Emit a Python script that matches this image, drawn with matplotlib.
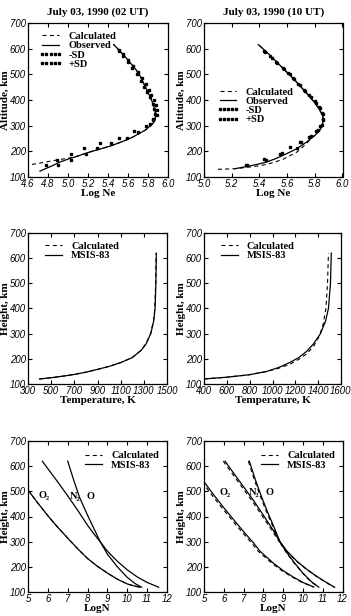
import numpy as np
import matplotlib.pyplot as plt

# ---- datos: densidad electronica (02 UT)
alt_obs1 = [123, 135, 145, 155, 167, 178, 190, 200, 210, 219, 230, 243, 256, 269, 282, 295, 305,
            314, 327, 340, 356, 373, 400, 438, 470, 503, 535, 567, 590, 616]
ne_obs1 = [4.72, 4.79, 4.85, 4.90, 4.98, 5.07, 5.16, 5.24, 5.33, 5.41, 5.49, 5.575, 5.65, 5.71, 5.77,
           5.81, 5.84, 5.86, 5.872, 5.876, 5.872, 5.86, 5.835, 5.79, 5.75, 5.71, 5.645, 5.575, 5.52, 5.457]
alt_cal1 = [149, 153, 158, 162, 167, 172, 178] + alt_obs1[6:]
ne_cal1 = [4.64, 4.70, 4.77, 4.83, 4.90, 4.98, 5.07] + ne_obs1[6:]
alt_msd1 = [145, 145, 167, 188, 213, 233, 253, 275, 305, 325, 345, 365, 385, 410, 430, 450, 475, 500, 525, 550, 570, 590]
ne_msd1 = [4.78, 4.90, 5.03, 5.03, 5.29, 5.43, 5.59, 5.70, 5.82, 5.85, 5.87, 5.86, 5.85, 5.82, 5.79, 5.76, 5.73, 5.69, 5.64, 5.60, 5.55, 5.51]
alt_psd1 = [167, 191, 213, 233, 253, 278, 300, 322, 342, 362, 382, 400, 420, 440, 462, 485, 508, 532, 555, 578, 595]
ne_psd1 = [4.89, 5.18, 5.16, 5.32, 5.51, 5.66, 5.78, 5.85, 5.89, 5.89, 5.88, 5.86, 5.83, 5.81, 5.78, 5.74, 5.70, 5.65, 5.60, 5.55, 5.51]

# ---- datos: densidad electronica (10 UT)
alt_obs2 = [132, 137, 143, 150, 158, 170, 184, 197, 210, 223, 236, 249, 262, 278, 295, 311, 327,
            343, 360, 382, 405, 430, 457, 486, 516, 548, 581, 616]
ne_obs2 = [5.22, 5.27, 5.33, 5.39, 5.45, 5.51, 5.57, 5.62, 5.67, 5.705, 5.74, 5.77, 5.80, 5.83, 5.85,
           5.858, 5.86, 5.855, 5.836, 5.81, 5.776, 5.735, 5.69, 5.64, 5.584, 5.525, 5.464, 5.392]
alt_cal2 = [130, 131, 132, 135, 139, 143, 149, 158, 169, 183, 197, 213, 230, 249] + alt_obs2[12:]
ne_cal2 = [5.10, 5.16, 5.21, 5.27, 5.33, 5.39, 5.45, 5.51, 5.57, 5.62, 5.67, 5.705, 5.74, 5.77] + ne_obs2[12:]
alt_msd2 = [145, 168, 190, 212, 235, 255, 280, 300, 322, 345, 368, 390, 412, 435, 458, 480, 500, 520, 545, 565, 588]
ne_msd2 = [5.30, 5.45, 5.55, 5.67, 5.70, 5.76, 5.81, 5.84, 5.86, 5.86, 5.84, 5.81, 5.77, 5.73, 5.69, 5.65, 5.62, 5.58, 5.53, 5.49, 5.44]
alt_psd2 = [148, 170, 192, 218, 238, 258, 282, 302, 325, 348, 372, 395, 418, 440, 462, 485, 505, 525, 550, 570, 592]
ne_psd2 = [5.31, 5.43, 5.56, 5.62, 5.69, 5.77, 5.82, 5.85, 5.86, 5.85, 5.83, 5.80, 5.76, 5.72, 5.68, 5.64, 5.61, 5.57, 5.52, 5.48, 5.43]

# ---- datos: temperatura
alt_t1 = [120, 125, 131, 138, 147, 158, 170, 185, 205, 235, 260, 300, 350, 400, 500, 620]
t_msis1 = [400, 500, 600, 700, 800, 900, 1000, 1100, 1200, 1280, 1320, 1360, 1385, 1397, 1404, 1408]
t_cal1 = [400, 500, 600, 700, 800, 900, 1000, 1100, 1200, 1278, 1318, 1358, 1383, 1395, 1402, 1406]
alt_t2 = [120, 127, 137, 150, 165, 185, 205, 230, 260, 300, 350, 400, 500, 620]
t_msis2 = [400, 600, 800, 950, 1050, 1150, 1230, 1300, 1360, 1420, 1465, 1490, 1508, 1515]
alt_t2c = [120, 127, 137, 150, 162, 178, 198, 220, 250, 290, 340, 400, 500, 620]
t_cal2 = [400, 600, 800, 950, 1050, 1150, 1230, 1300, 1360, 1410, 1445, 1468, 1482, 1490]

# ---- datos: composicion neutra (02 UT)
n_o2_1 = [5.0, 5.5, 6.0, 6.5, 7.0, 7.5, 8.0, 8.5, 9.0, 9.5, 10.0, 10.3, 10.64]
alt_o2_1 = [505, 453, 403, 357, 314, 272, 233, 202, 175, 151, 132, 125, 119]
n_n2_1 = [5.72, 6.0, 6.5, 7.0, 7.5, 8.0, 8.3, 8.65, 9.0, 9.5, 10.0, 10.5, 11.0, 11.58]
alt_n2_1 = [620, 590, 537, 482, 425, 365, 333, 298, 262, 222, 188, 160, 138, 119]
n_o_1 = [7.0, 7.3, 7.6, 8.0, 8.3, 8.65, 9.0, 9.5, 10.0, 10.4, 10.72]
alt_o_1 = [620, 545, 475, 405, 355, 298, 250, 200, 158, 133, 119]

# ---- datos: composicion neutra (10 UT)
n_o2_2 = [5.0, 5.5, 6.0, 6.5, 7.0, 7.5, 7.83, 8.5, 9.0, 9.5, 10.0, 10.55]
n_o2_2c = [4.9, 5.4, 5.9, 6.4, 6.9, 7.4, 7.74, 8.42, 8.93, 9.44, 9.96, 10.52]
alt_o2_2 = [538, 485, 435, 387, 340, 295, 262, 215, 185, 160, 138, 120]
n_n2_2 = [6.06, 6.5, 7.0, 7.5, 8.0, 8.5, 8.84, 9.2, 9.7, 10.2, 10.7, 11.1, 11.6]
n_n2_2c = [5.97, 6.41, 6.91, 7.41, 7.92, 8.43, 8.8, 9.17, 9.68, 10.18, 10.68, 11.08, 11.58]
alt_n2_2 = [620, 572, 518, 464, 405, 345, 300, 262, 222, 190, 162, 142, 119]
n_o_2 = [7.29, 7.6, 7.9, 8.2, 8.5, 8.84, 9.2, 9.6, 10.0, 10.4, 10.8]
n_o_2c = [7.24, 7.55, 7.85, 8.15, 8.46, 8.81, 9.17, 9.58, 9.98, 10.38, 10.78]
alt_o_2 = [620, 545, 480, 420, 365, 300, 255, 213, 175, 143, 119]

titulos = ['July 03, 1990 (02 UT)', 'July 03, 1990 (10 UT)']

W, H = 351, 616
fig = plt.figure(figsize=(W / 100, H / 100), dpi=100)

serif = {'family': 'Liberation Serif', 'weight': 'bold'}
lab_fs = 8
tick_fs = 6.9


def caja(l, r, t, b):
    return [l / W, 1 - b / H, (r - l) / W, (b - t) / H]


def estilo(ax, xticks, xlabel, ylabel):
    ax.set_xlim(xticks[0], xticks[-1])
    ax.set_ylim(100, 700)
    ax.set_xticks(xticks)
    ax.set_yticks(np.arange(100, 701, 100))
    ax.tick_params(direction='in', top=True, right=True, length=3, width=0.8,
                   labelsize=tick_fs, pad=1.5)
    for lb in ax.get_xticklabels() + ax.get_yticklabels():
        lb.set_family('Liberation Sans')
        lb.set_style('italic')
    for s in ax.spines.values():
        s.set_linewidth(0.9)
    ax.set_xlabel(xlabel, fontdict=serif, fontsize=lab_fs, labelpad=0)
    ax.set_ylabel(ylabel, fontdict=serif, fontsize=lab_fs, labelpad=0)


def leyenda(ax, anchor):
    ax.legend(loc='upper left', bbox_to_anchor=anchor, frameon=False,
              prop={'family': 'Liberation Serif', 'weight': 'bold', 'size': 7.5},
              handlelength=2.2, handletextpad=0.6, labelspacing=0.0,
              borderaxespad=0, numpoints=5)


dash = dict(color='black', lw=0.8, dashes=(3.6, 3.0))
sol = dict(color='black', lw=0.9)
sd = dict(color='black', ls='none', marker='s', markersize=1.5)

# --- fila 1: Log Ne
ax1 = fig.add_axes(caja(28, 168, 23, 177))
ax1.plot(ne_cal1, alt_cal1, label='Calculated', **dash)
ax1.plot(ne_obs1, alt_obs1, label='Observed', **sol)
ax1.plot(ne_msd1, alt_msd1, label='-SD', **sd)
ax1.plot(ne_psd1, alt_psd1, label='+SD', **sd)
estilo(ax1, np.round(np.arange(4.6, 6.01, 0.2), 1), 'Log Ne', 'Altitude, km')
ax1.set_title(titulos[0], fontdict=serif, fontsize=8, pad=6)
leyenda(ax1, (0.05, 0.97))

ax2 = fig.add_axes(caja(204, 342.5, 23, 177))
ax2.plot(ne_cal2, alt_cal2, label='Calculated', **dash)
ax2.plot(ne_obs2, alt_obs2, label='Observed', **sol)
ax2.plot(ne_msd2, alt_msd2, label='-SD', **sd)
ax2.plot(ne_psd2, alt_psd2, label='+SD', **sd)
estilo(ax2, np.round(np.arange(5.0, 6.01, 0.2), 1), 'Log Ne', 'Altitude, km')
ax2.set_title(titulos[1], fontdict=serif, fontsize=8, pad=6)
leyenda(ax2, (0.06, 0.61))

# --- fila 2: temperatura
ax3 = fig.add_axes(caja(28, 167, 233, 384))
ax3.plot(t_cal1, alt_t1, label='Calculated', **dash)
ax3.plot(t_msis1, alt_t1, label='MSIS-83', **sol)
estilo(ax3, np.arange(300, 1501, 200), 'Temperature, K', 'Height, km')
leyenda(ax3, (0.07, 0.97))

ax4 = fig.add_axes(caja(204, 341, 233, 384))
ax4.plot(t_cal2, alt_t2c, label='Calculated', **dash)
ax4.plot(t_msis2, alt_t2, label='MSIS-83', **sol)
estilo(ax4, np.arange(400, 1601, 200), 'Temperature, K', 'Height, km')
leyenda(ax4, (0.07, 0.97))

# --- fila 3: composicion
ax5 = fig.add_axes(caja(28, 167, 441, 592))
ax5.plot(n_o2_1, alt_o2_1, label='Calculated', **dash)
ax5.plot(n_o2_1, alt_o2_1, label='MSIS-83', **sol)
ax5.plot(n_n2_1, alt_n2_1, **sol)
ax5.plot(n_o_1, alt_o_1, **sol)
estilo(ax5, np.arange(5, 13), 'LogN', 'Height, km')
leyenda(ax5, (0.36, 0.96))

ax6 = fig.add_axes(caja(204, 342.5, 441, 592))
ax6.plot(n_o2_2c, alt_o2_2, label='Calculated', **dash)
ax6.plot(n_o2_2, alt_o2_2, label='MSIS-83', **sol)
ax6.plot(n_n2_2c, alt_n2_2, **dash)
ax6.plot(n_n2_2, alt_n2_2, **sol)
ax6.plot(n_o_2c, alt_o_2, **dash)
ax6.plot(n_o_2, alt_o_2, **sol)
estilo(ax6, np.arange(5, 13), 'LogN', 'Height, km')
leyenda(ax6, (0.36, 0.96))

etiq = {'family': ['Liberation Serif', 'DejaVu Serif'], 'weight': 'bold', 'size': 7.5}
for ax, pos in [(ax5, [(5.55, 472), (7.1, 470), (7.95, 470)]),
                (ax6, [(5.8, 487), (7.25, 487), (8.1, 487)])]:
    for txt, (x, y) in zip(['O\u2082', 'N\u2082', 'O'], pos):
        ax.text(x, y, txt, **etiq)

plt.savefig('out.png', dpi=100)
